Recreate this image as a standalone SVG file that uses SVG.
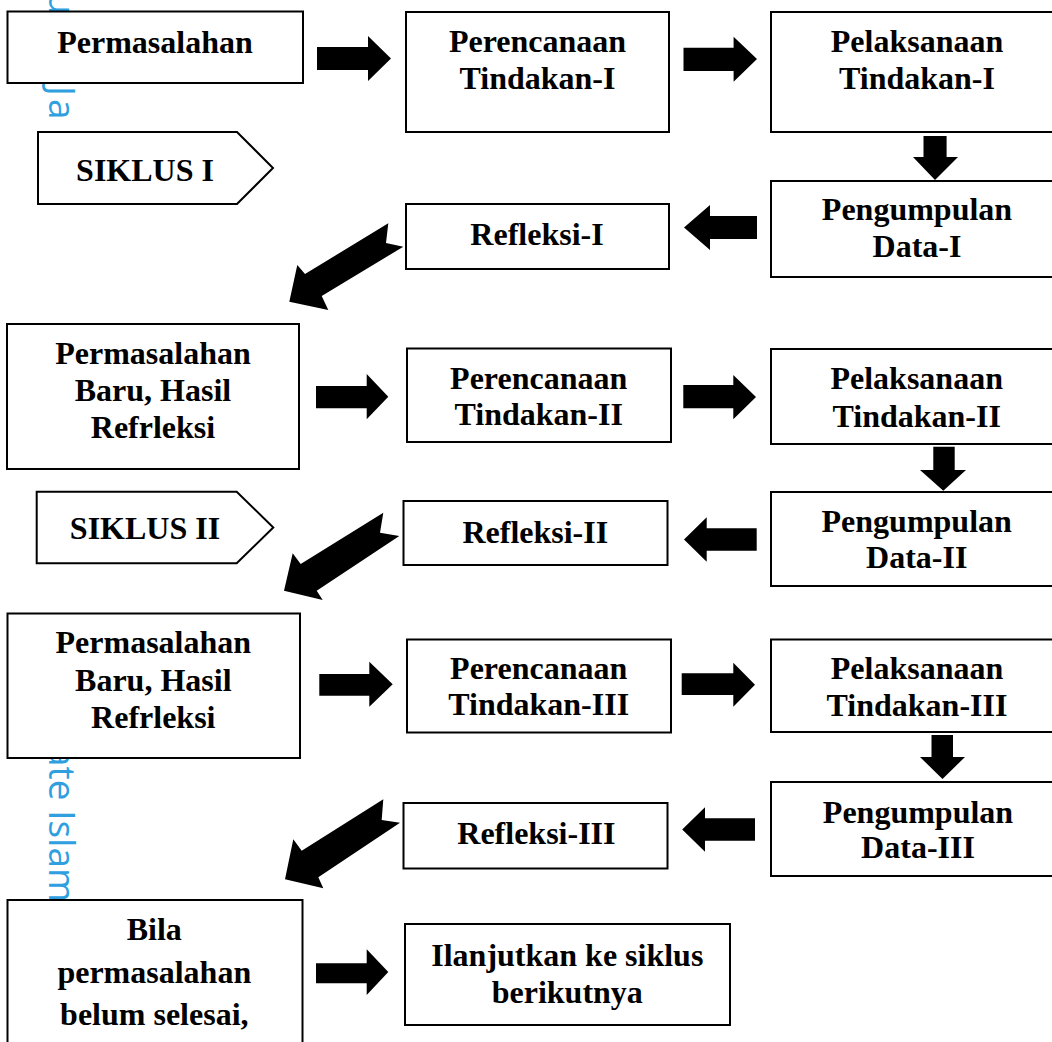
<svg xmlns="http://www.w3.org/2000/svg" width="1052" height="1042" viewBox="0 0 1052 1042">
<style>
.box{fill:#fff;stroke:#000;stroke-width:2}
.t{font-family:"Liberation Serif","Times New Roman",serif;font-weight:bold;font-size:32px;fill:#000;text-anchor:middle}
.arr{fill:#000;stroke:none}
.wm{font-family:"Open Sans","Liberation Sans",sans-serif;font-weight:400;font-size:37px;fill:#2f9fe0}
</style>
<rect width="1052" height="1042" fill="#fff"/>
<g id="watermark">
<text class="wm" transform="translate(49,-8) rotate(90)">u</text>
<text class="wm" transform="translate(49,86) rotate(90)" letter-spacing="3">Ja</text>
<text class="wm" transform="translate(49,746) rotate(90)">ate Islamic</text>
</g>
<g id="connectors">
<polygon class="arr" points="317,47 368,47 368,36 391,58.5 368,81 368,70 317,70"/>
<polygon class="arr" points="683.5,47.7 733.6,47.7 733.6,36.7 757,59 733.6,81.7 733.6,71 683.5,71"/>
<polygon class="arr" points="923.5,136 946.6,136 946.6,157 958,157 935,180 913,157 923.5,157"/>
<polygon class="arr" points="757,216 710,216 710,205 684,227.5 710,250 710,239 757,239"/>
<polygon class="arr" points="289.3,301.7 297.3,265 305,274 388.3,223.3 386,243 403.3,246.7 321.7,296 328.3,310"/>
<polygon class="arr" points="316,386 366.7,386 366.7,374 388.3,396.7 366.7,419.3 366.7,408.3 316,408.3"/>
<polygon class="arr" points="683.3,385 733.3,385 733.3,375 756,397 733.3,419.3 733.3,408.3 683.3,408.3"/>
<polygon class="arr" points="933.3,446.7 954.7,446.7 954.7,470 966,470 943.3,490.7 920,470 933.3,470"/>
<polygon class="arr" points="756.7,528.3 706.7,528.3 706.7,517.3 684,539.5 706.7,561.7 706.7,550.7 756.7,550.7"/>
<polygon class="arr" points="284,590.7 292.7,553.3 300.7,564 383.3,512.7 380,532.7 399.3,536 316.7,590.7 322.7,600"/>
<polygon class="arr" points="319.3,674 369.3,674 369.3,661.7 392.7,684.2 369.3,706.7 369.3,695.7 319.3,695.7"/>
<polygon class="arr" points="681.7,673.3 733.3,673.3 733.3,662.7 755,684.7 733.3,706.7 733.3,695 681.7,695"/>
<polygon class="arr" points="931.5,735 953,735 953,757 965,757 942.5,779 920,757 931.5,757"/>
<polygon class="arr" points="755,818.3 705,818.3 705,807.3 682.2,829.5 705,851.7 705,840.7 755,840.7"/>
<polygon class="arr" points="285,879.3 293.3,839.3 301.7,850.7 383.3,799.3 381.7,820 400,822.7 318.3,877.3 323.3,888.3"/>
<polygon class="arr" points="316,963.3 366.7,963.3 366.7,949.3 388.3,972 366.7,995 366.7,983.3 316,983.3"/>
</g>
<g id="permasalahan">
<rect class="box" x="7.5" y="11.5" width="295.5" height="71.5"/>
<text class="t" x="155" y="53">Permasalahan</text>
</g>
<g id="perencanaan-1">
<rect class="box" x="406" y="12" width="263" height="120"/>
<text class="t" x="537.5" y="52">Perencanaan</text>
<text class="t" x="537.5" y="89">Tindakan-I</text>
</g>
<g id="pelaksanaan-1">
<rect class="box" x="771" y="12" width="300" height="120"/>
<text class="t" x="917" y="52">Pelaksanaan</text>
<text class="t" x="917" y="89">Tindakan-I</text>
</g>
<g id="siklus-1">
<polygon class="box" points="38,132 237,132 273,168 237,204 38,204"/>
<text class="t" x="145" y="181">SIKLUS I</text>
</g>
<g id="pengumpulan-1">
<rect class="box" x="771" y="181" width="300" height="96"/>
<text class="t" x="917" y="220">Pengumpulan</text>
<text class="t" x="917" y="257">Data-I</text>
</g>
<g id="refleksi-1">
<rect class="box" x="406" y="204" width="263" height="65"/>
<text class="t" x="537" y="245">Refleksi-I</text>
</g>
<g id="permasalahan-baru-1">
<rect class="box" x="7" y="324" width="292" height="145"/>
<text class="t" x="153" y="364">Permasalahan</text>
<text class="t" x="153" y="401">Baru, Hasil</text>
<text class="t" x="153" y="438">Refrleksi</text>
</g>
<g id="perencanaan-2">
<rect class="box" x="407" y="348.5" width="264" height="93.5"/>
<text class="t" x="538.7" y="389">Perencanaan</text>
<text class="t" x="538.7" y="425">Tindakan-II</text>
</g>
<g id="pelaksanaan-2">
<rect class="box" x="771" y="349" width="300" height="95"/>
<text class="t" x="916.7" y="389">Pelaksanaan</text>
<text class="t" x="916.7" y="426.5">Tindakan-II</text>
</g>
<g id="siklus-2">
<polygon class="box" points="36.7,491.7 236.7,491.7 273.3,527.5 236.7,563.3 36.7,563.3"/>
<text class="t" x="145" y="539.3">SIKLUS II</text>
</g>
<g id="refleksi-2">
<rect class="box" x="403.5" y="501" width="264" height="64"/>
<text class="t" x="535.3" y="542.7">Refleksi-II</text>
</g>
<g id="pengumpulan-2">
<rect class="box" x="771" y="492" width="300" height="94"/>
<text class="t" x="916.7" y="531.7">Pengumpulan</text>
<text class="t" x="916.7" y="568.3">Data-II</text>
</g>
<g id="permasalahan-baru-2">
<rect class="box" x="7.5" y="613.5" width="292.5" height="144.5"/>
<text class="t" x="153.3" y="653.3">Permasalahan</text>
<text class="t" x="153.3" y="690.7">Baru, Hasil</text>
<text class="t" x="153.3" y="728.3">Refrleksi</text>
</g>
<g id="perencanaan-3">
<rect class="box" x="407" y="639.5" width="264" height="93"/>
<text class="t" x="538.7" y="679.3">Perencanaan</text>
<text class="t" x="538.7" y="715">Tindakan-III</text>
</g>
<g id="pelaksanaan-3">
<rect class="box" x="771" y="639.5" width="300" height="92.5"/>
<text class="t" x="917" y="679">Pelaksanaan</text>
<text class="t" x="917" y="716">Tindakan-III</text>
</g>
<g id="refleksi-3">
<rect class="box" x="403.5" y="803" width="264" height="65.5"/>
<text class="t" x="536.4" y="844">Refleksi-III</text>
</g>
<g id="pengumpulan-3">
<rect class="box" x="771" y="782" width="300" height="94"/>
<text class="t" x="918" y="822.7">Pengumpulan</text>
<text class="t" x="918" y="858.3">Data-III</text>
</g>
<g id="bila">
<rect class="box" x="7.5" y="900" width="295" height="200"/>
<text class="t" x="154.3" y="940">Bila</text>
<text class="t" x="154.3" y="982.7">permasalahan</text>
<text class="t" x="154.3" y="1025">belum selesai,</text>
</g>
<g id="lanjutkan">
<rect class="box" x="405" y="924" width="325" height="101"/>
<text class="t" x="567.3" y="966">Ilanjutkan ke siklus</text>
<text class="t" x="567.3" y="1003">berikutnya</text>
</g>
</svg>
